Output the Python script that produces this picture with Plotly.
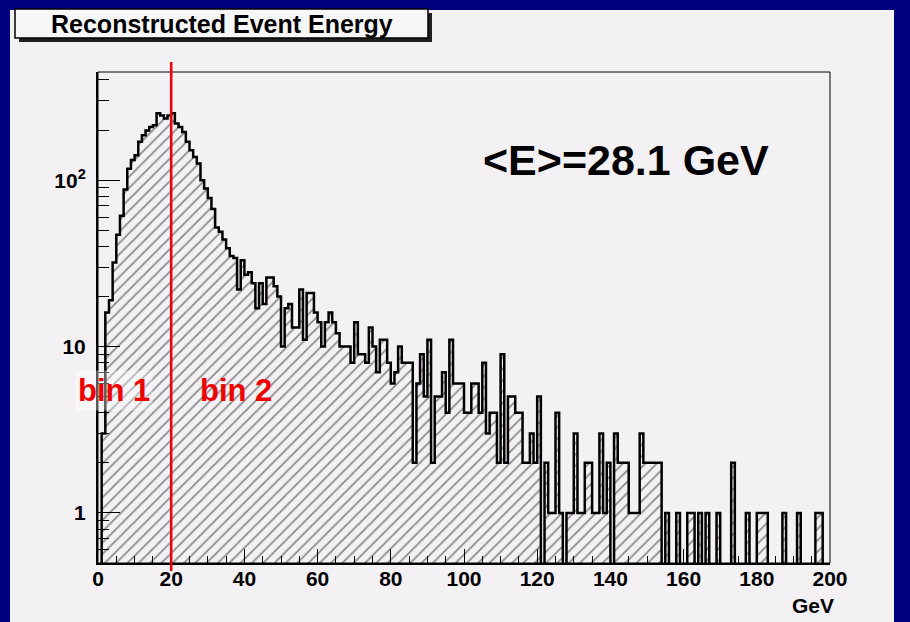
import plotly.graph_objects as go

# ---------------- data ----------------
bin_width = 1.0  # GeV
counts = [
    0, 3, 16, 19, 32, 47, 61, 88, 117, 132,
    141, 170, 186, 199, 209, 214, 252, 245, 235, 245,
    252, 219, 209, 195, 170, 151, 138, 126, 100, 89,
    78, 67, 52, 49, 44, 39, 35, 34, 22, 33,
    27, 28, 24, 17, 24, 18, 26, 26, 23, 20,
    10, 17, 18, 13, 13, 22, 11, 21, 21, 16,
    14, 10, 14, 16, 14, 12, 10, 10, 10, 8,
    14, 9, 9, 8, 13, 10, 7, 11, 11, 8,
    6, 7, 10, 8, 8, 8, 2, 6, 9, 5,
    11, 2, 5, 5, 7, 4, 11, 6, 6, 6,
    4, 4, 6, 6, 4, 8, 3, 4, 4, 2,
    9, 2, 5, 5, 4, 4, 2, 2, 3, 2,
    5, 0, 2, 1, 1, 4, 1, 0, 1, 1,
    3, 1, 1, 2, 2, 1, 1, 3, 1, 2,
    0, 3, 2, 2, 2, 1, 1, 1, 3, 2,
    2, 2, 2, 2, 0, 1, 0, 0, 1, 0,
    0, 1, 1, 0, 1, 0, 1, 0, 0, 1,
    0, 0, 0, 2, 0, 0, 0, 1, 0, 0,
    1, 1, 1, 0, 0, 0, 0, 1, 0, 0,
    0, 1, 0, 0, 0, 0, 1, 1, 0, 0,
]
x_ticks = [0, 20, 40, 60, 80, 100, 120, 140, 160, 180, 200]
x_ticktext = [str(v) for v in x_ticks]
y_ticks = [1, 10, 100]
y_ticktext = ["1", "10", "10<sup>2</sup>"]
y_minor = [0.6, 0.7, 0.8, 0.9, 2, 3, 4, 5, 6, 7, 8, 9,
           20, 30, 40, 50, 60, 70, 80, 90, 200, 300, 400]
cut_energy = 20
title_text = "Reconstructed Event Energy"
mean_text = "&lt;E&gt;=28.1 GeV"

# ---------------- layout geometry ----------------
W, H = 910, 622
L, R, T, B = 98, 830, 72, 563
PAD = "#f4f1f5"
NAVY = "#00007f"
FONT = "Liberation Sans, Arial, sans-serif"


def px(xp):
    return (xp - L) / (R - L)


def py(yp):
    return (B - yp) / (B - T)


centers = [(i + 0.5) * bin_width for i in range(len(counts))]
edges = [i * bin_width for i in range(len(counts) + 1)]
step_y = [c if c > 0 else 0.01 for c in counts]
step_y = step_y + [step_y[-1]]

fig = go.Figure()
fig.add_trace(go.Bar(
    x=centers, y=[c if c > 0 else None for c in counts], width=bin_width,
    marker=dict(color=PAD, line=dict(width=0),
                pattern=dict(shape="/", size=8, solidity=0.22,
                             fgcolor="#222222", bgcolor=PAD)),
    showlegend=False, hoverinfo="skip",
))
fig.add_trace(go.Scatter(
    x=edges, y=step_y, mode="lines", line=dict(shape="hv", color="black", width=2.5),
    showlegend=False, hoverinfo="skip",
))

shapes = [
    # pad (light area inside navy border)
    dict(type="rect", xref="paper", yref="paper", x0=px(10), x1=px(894), y0=py(H + 5), y1=py(10),
         fillcolor=PAD, line=dict(width=0), layer="below"),
    # frame
    dict(type="rect", xref="paper", yref="paper", x0=0, x1=1, y0=0, y1=1,
         line=dict(color="black", width=1), layer="above"),
    # title box shadow
    dict(type="rect", xref="paper", yref="paper", x0=px(19), x1=px(432), y0=py(42), y1=py(13),
         fillcolor="#202020", line=dict(width=0), layer="above"),
    # title box
    dict(type="rect", xref="paper", yref="paper", x0=px(15), x1=px(428), y0=py(38), y1=py(9),
         fillcolor="#f8f7f8", line=dict(color="black", width=1.5), layer="above"),
    # red cut line
    dict(type="line", xref="x", yref="paper", x0=cut_energy, x1=cut_energy, y0=py(571), y1=py(62),
         line=dict(color="#ee0000", width=2.5), layer="above"),
]

annotations = [
    dict(text="<b>%s</b>" % title_text, xref="paper", yref="paper", x=px(222), y=py(24),
         showarrow=False, font=dict(family=FONT, size=25, color="black"),
         xanchor="center", yanchor="middle"),
    dict(text="<b>%s</b>" % mean_text, xref="paper", yref="paper", x=px(626), y=py(160),
         showarrow=False, font=dict(family=FONT, size=43, color="black"),
         xanchor="center", yanchor="middle"),
    dict(text="<b>bin 1</b>", xref="paper", yref="paper", x=px(114), y=py(390),
         showarrow=False, font=dict(family=FONT, size=31, color="#ee0000"),
         xanchor="center", yanchor="middle", bgcolor="rgba(255,255,255,0.35)", borderpad=2),
    dict(text="<b>bin 2</b>", xref="paper", yref="paper", x=px(236), y=py(390),
         showarrow=False, font=dict(family=FONT, size=31, color="#ee0000"),
         xanchor="center", yanchor="middle"),
    dict(text="<b>GeV</b>", xref="paper", yref="paper", x=px(836), y=py(605),
         showarrow=False, font=dict(family=FONT, size=21, color="black"),
         xanchor="right", yanchor="middle"),
]

fig.update_layout(
    width=W, height=H,
    margin=dict(l=L, r=W - R, t=T, b=H - B, pad=0),
    paper_bgcolor=NAVY, plot_bgcolor=PAD,
    bargap=0, shapes=shapes, annotations=annotations,
    xaxis=dict(range=[0, 200], tickmode="array", tickvals=x_ticks,
               ticktext=["<b>%s</b>" % t for t in x_ticktext],
               ticks="inside", ticklen=14, tickwidth=1.2, tickcolor="black",
               minor=dict(ticks="inside", dtick=5, tick0=0, ticklen=7, tickcolor="black", showgrid=False),
               showgrid=False, zeroline=False, showline=True, linecolor="black", linewidth=2,
               tickfont=dict(family=FONT, size=21, color="black"), ticklabelstandoff=-4),
    yaxis=dict(type="log", range=[-0.301, 2.65], tickmode="array", tickvals=y_ticks,
               ticktext=["<b>%s</b>" % t for t in y_ticktext],
               ticks="inside", ticklen=22, tickwidth=1.2, tickcolor="black",
               minor=dict(ticks="inside", tickmode="array", tickvals=y_minor, ticklen=11,
                          tickcolor="black", showgrid=False),
               showgrid=False, zeroline=False, showline=True, linecolor="black", linewidth=2,
               tickfont=dict(family=FONT, size=21, color="black"), ticklabelstandoff=6),
    font=dict(family=FONT, color="black"),
)

fig.write_html(
    "out.html",
    config={"displayModeBar": False},
    post_script="document.body.style.margin='0';document.body.style.padding='0';"
                "document.body.style.overflow='hidden';",
)
